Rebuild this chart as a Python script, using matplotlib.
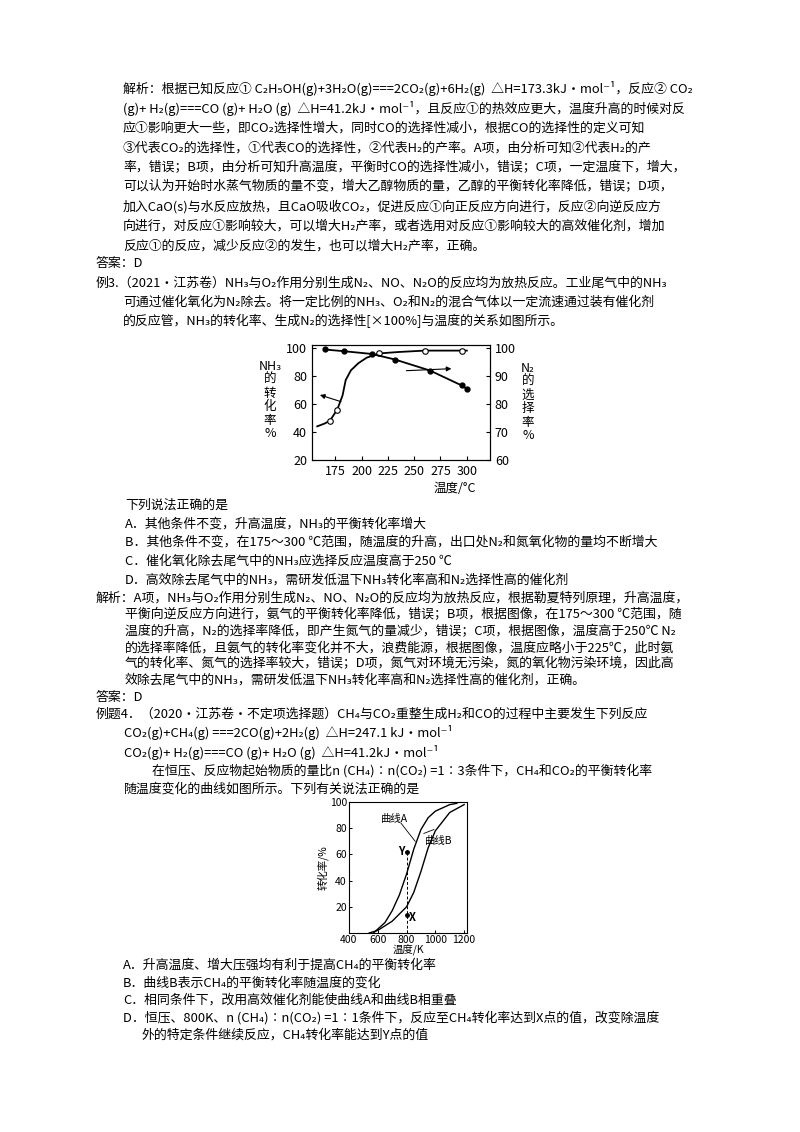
import matplotlib
matplotlib.use("Agg")
import matplotlib.pyplot as plt

plt.rcParams['font.family'] = ['Noto Sans CJK SC', 'DejaVu Sans']
plt.rcParams['axes.unicode_minus'] = False

W, H = 800, 1132

# chart 1: NH3 conversion (left axis) and N2 selectivity (right axis)
nh3_temp = [158, 165, 170, 177, 182, 185, 190, 197, 205, 217, 235, 260, 295, 300]
nh3_conv = [44, 46, 48, 56, 66, 77, 84, 89, 93, 96, 97, 98, 98, 98]
nh3_marks_t = [170, 177, 217, 260, 295]
nh3_marks_v = [48, 56, 96, 98, 98]
n2_temp = [165, 183, 210, 232, 265, 295, 300]
n2_sel = [99.4, 98.8, 97.8, 95.8, 91.9, 86.6, 85.4]

# chart 2: CH4 conversion vs temperature
a_temp = [570, 650, 700, 750, 800, 850, 900, 950, 1000, 1100, 1150]
a_conv = [0, 8, 17, 29, 45, 64, 79, 88, 93, 98, 99]
b_temp = [540, 600, 700, 800, 850, 900, 950, 1000, 1100, 1200]
b_conv = [0, 2, 9, 20, 31, 47, 65, 78, 92, 98]

lines = [
    (123, 89, "解析：根据已知反应① C₂H₅OH(g)+3H₂O(g)===2CO₂(g)+6H₂(g)  △H=173.3kJ·mol⁻¹，反应② CO₂"),
    (123, 108, "(g)+ H₂(g)===CO (g)+ H₂O (g)  △H=41.2kJ·mol⁻¹，且反应①的热效应更大，温度升高的时候对反"),
    (123, 128, "应①影响更大一些，即CO₂选择性增大，同时CO的选择性减小，根据CO的选择性的定义可知"),
    (123, 148, "③代表CO₂的选择性，①代表CO的选择性，②代表H₂的产率。A项，由分析可知②代表H₂的产"),
    (123, 168, "率，错误；B项，由分析可知升高温度，平衡时CO的选择性减小，错误；C项，一定温度下，增大，"),
    (123, 187, "可以认为开始时水蒸气物质的量不变，增大乙醇物质的量，乙醇的平衡转化率降低，错误；D项，"),
    (123, 207, "加入CaO(s)与水反应放热，且CaO吸收CO₂，促进反应①向正反应方向进行，反应②向逆反应方"),
    (123, 226, "向进行，对反应①影响较大，可以增大H₂产率，或者选用对反应①影响较大的高效催化剂，增加"),
    (123, 246, "反应①的反应，减少反应②的发生，也可以增大H₂产率，正确。"),
    (96, 264, "答案：D"),
    (96, 283, "例3.（2021·江苏卷）NH₃与O₂作用分别生成N₂、NO、N₂O的反应均为放热反应。工业尾气中的NH₃"),
    (123, 302, "可通过催化氧化为N₂除去。将一定比例的NH₃、O₂和N₂的混合气体以一定流速通过装有催化剂"),
    (123, 321, "的反应管，NH₃的转化率、生成N₂的选择性[×100%]与温度的关系如图所示。"),
    (125, 505, "下列说法正确的是"),
    (125, 524, "A．其他条件不变，升高温度，NH₃的平衡转化率增大"),
    (125, 542, "B．其他条件不变，在175～300 ℃范围，随温度的升高，出口处N₂和氮氧化物的量均不断增大"),
    (125, 561, "C．催化氧化除去尾气中的NH₃应选择反应温度高于250 ℃"),
    (125, 580, "D．高效除去尾气中的NH₃，需研发低温下NH₃转化率高和N₂选择性高的催化剂"),
    (96, 598, "解析：A项，NH₃与O₂作用分别生成N₂、NO、N₂O的反应均为放热反应，根据勒夏特列原理，升高温度，"),
    (125, 615, "平衡向逆反应方向进行，氨气的平衡转化率降低，错误；B项，根据图像，在175～300 ℃范围，随"),
    (125, 632, "温度的升高，N₂的选择率降低，即产生氮气的量减少，错误；C项，根据图像，温度高于250℃ N₂"),
    (125, 648, "的选择率降低，且氨气的转化率变化并不大，浪费能源，根据图像，温度应略小于225℃，此时氨"),
    (125, 664, "气的转化率、氮气的选择率较大，错误；D项，氮气对环境无污染，氮的氧化物污染环境，因此高"),
    (125, 680, "效除去尾气中的NH₃，需研发低温下NH₃转化率高和N₂选择性高的催化剂，正确。"),
    (96, 697, "答案：D"),
    (96, 714, "例题4．（2020·江苏卷·不定项选择题）CH₄与CO₂重整生成H₂和CO的过程中主要发生下列反应"),
    (124, 733, "CO₂(g)+CH₄(g) ===2CO(g)+2H₂(g)  △H=247.1 kJ·mol⁻¹"),
    (124, 752, "CO₂(g)+ H₂(g)===CO (g)+ H₂O (g)  △H=41.2kJ·mol⁻¹"),
    (152, 771, "在恒压、反应物起始物质的量比n (CH₄)∶n(CO₂) =1∶3条件下，CH₄和CO₂的平衡转化率"),
    (124, 789, "随温度变化的曲线如图所示。下列有关说法正确的是"),
    (123, 965, "A．升高温度、增大压强均有利于提高CH₄的平衡转化率"),
    (123, 983, "B．曲线B表示CH₄的平衡转化率随温度的变化"),
    (123, 1000, "C．相同条件下，改用高效催化剂能使曲线A和曲线B相重叠"),
    (123, 1018, "D．恒压、800K、n (CH₄)∶n(CO₂) =1∶1条件下，反应至CH₄转化率达到X点的值，改变除温度"),
    (142, 1035, "外的特定条件继续反应，CH₄转化率能达到Y点的值"),
]

fig = plt.figure(figsize=(W / 100, H / 100), dpi=100)
fig.patch.set_facecolor("white")

for x, y, s in lines:
    fig.text(x / W, 1 - y / H, s, fontsize=9.3, va="center", ha="left")


def box(l, t, r, b):
    return [l / W, 1 - b / H, (r - l) / W, (b - t) / H]


# chart 1
ax = fig.add_axes(box(312, 345, 490, 460))
ax.plot(nh3_temp, nh3_conv, color="black", lw=1.3)
ax.plot(nh3_marks_t, nh3_marks_v, "o", mfc="white", mec="black", ms=4, mew=0.8)
ax.set_xlim(153, 322)
ax.set_ylim(20, 102)
ax.set_xticks([175, 200, 225, 250, 275, 300])
ax.set_yticks([20, 40, 60, 80, 100])
ax.tick_params(labelsize=9, direction="in", length=3, width=0.8)
ax.annotate("", xy=(158, 67), xytext=(183, 61),
            arrowprops=dict(arrowstyle="-|>", color="black", lw=0.8, mutation_scale=7))
ax2 = ax.twinx()
ax2.plot(n2_temp, n2_sel, color="black", lw=1.3, marker="o", ms=3.5)
ax2.set_ylim(60, 101)
ax2.set_yticks([60, 70, 80, 90, 100])
ax2.tick_params(labelsize=9, direction="in", length=3, width=0.8)
ax2.annotate("", xy=(288, 92.6), xytext=(240, 91.8),
             arrowprops=dict(arrowstyle="-|>", color="black", lw=0.8, mutation_scale=7))
fig.text(270 / W, 1 - 400 / H, "NH₃\n的\n转\n化\n率\n%", fontsize=9,
         ha="center", va="center", linespacing=1.05)
fig.text(528 / W, 1 - 402 / H, "N₂\n的\n选\n择\n率\n%", fontsize=9,
         ha="center", va="center", linespacing=1.05)
fig.text(455 / W, 1 - 488 / H, "温度/°C", fontsize=9, ha="center", va="center")

# chart 2
bx = fig.add_axes(box(349, 802, 467, 933))
bx.plot(a_temp, a_conv, color="black", lw=1.0)
bx.plot(b_temp, b_conv, color="black", lw=1.0)
bx.plot([800, 800], [0, 62], color="black", lw=0.7, ls=(0, (3, 2)))
bx.plot([800, 800], [62, 14], "o", color="black", ms=2.5)
bx.text(785, 62, "Y", fontsize=8, fontweight="bold", ha="right", va="center")
bx.text(815, 12, "X", fontsize=8, fontweight="bold", ha="left", va="center")
bx.text(620, 87, "曲线A", fontsize=7.5, ha="left", va="center")
bx.text(930, 70, "曲线B", fontsize=7.5, ha="left", va="center")
bx.plot([760, 860], [84, 70], color="black", lw=0.6)
bx.plot([920, 990], [76, 79], color="black", lw=0.6)
bx.set_xlim(400, 1220)
bx.set_ylim(0, 100)
bx.set_xticks([400, 600, 800, 1000, 1200])
bx.set_yticks([20, 40, 60, 80, 100])
bx.tick_params(labelsize=7.5, direction="in", length=2.5, width=0.7, pad=1.5)
bx.set_xlabel("温度/K", fontsize=7.5, labelpad=0)
bx.set_ylabel("转化率/%", fontsize=7.5, labelpad=1)

fig.savefig("out.png", dpi=100)
